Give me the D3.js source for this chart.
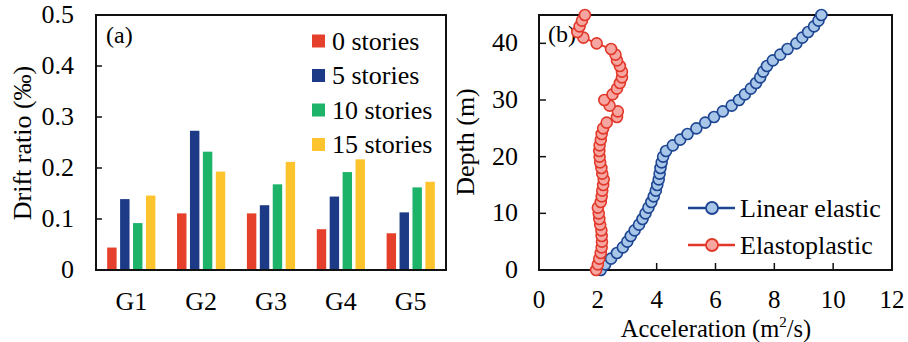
<!DOCTYPE html>
<html>
<head>
<meta charset="utf-8">
<script src="https://cdnjs.cloudflare.com/ajax/libs/d3/7.8.5/d3.min.js"></script>
<style>
  html, body { margin: 0; padding: 0; background: #fff; }
  svg { display: block; }
</style>
</head>
<body>
<svg id="chart" width="908" height="342"></svg>
<script>
// panel (a) data
const groups = ["G1", "G2", "G3", "G4", "G5"];
const storyLabels = ["0 stories", "5 stories", "10 stories", "15 stories"];
const stories0 = [0.044, 0.111, 0.111, 0.080, 0.072];
const stories5 = [0.139, 0.273, 0.127, 0.144, 0.113];
const stories10 = [0.092, 0.232, 0.168, 0.192, 0.162];
const stories15 = [0.146, 0.193, 0.212, 0.217, 0.173];
const barColors = ["#e5402b", "#1c3a86", "#1db46a", "#fdc42e"];
const yTicksA = [0, 0.1, 0.2, 0.3, 0.4, 0.5];

// panel (b) data: depth (m) and acceleration (m2/s)
const depths = d3.range(0, 46);
const linearElastic = [2.10, 2.25, 2.45, 2.65, 2.85, 3.00, 3.12, 3.25, 3.40, 3.52,
  3.62, 3.72, 3.82, 3.90, 3.97, 4.02, 4.07, 4.10, 4.13, 4.17,
  4.22, 4.32, 4.55, 4.80, 5.05, 5.35, 5.65, 5.95, 6.25, 6.55,
  6.80, 7.00, 7.20, 7.38, 7.52, 7.62, 7.75, 7.95, 8.20, 8.45,
  8.75, 8.95, 9.15, 9.35, 9.50, 9.60];
const elastoplastic = [1.94, 2.00, 2.05, 2.10, 2.13, 2.14, 2.13, 2.12, 2.08, 2.05,
  2.03, 2.00, 2.10, 2.13, 2.15, 2.18, 2.20, 2.15, 2.12, 2.08,
  2.06, 2.05, 2.06, 2.10, 2.13, 2.18, 2.30, 2.65, 2.68, 2.40,
  2.22, 2.50, 2.65, 2.75, 2.82, 2.82, 2.75, 2.65, 2.60, 2.45,
  1.96, 1.51, 1.30, 1.38, 1.46, 1.56];
const xTicksB = [0, 2, 4, 6, 8, 10, 12];
const yTicksB = [0, 10, 20, 30, 40];

const FONT = "Liberation Serif";

const svg = d3.select("#chart");

// ---------- panel (a) ----------
const A = { left: 96, right: 446, top: 15, bottom: 270 };
const series = [stories0, stories5, stories10, stories15];

const x0 = d3.scaleBand().domain(groups).range([A.left, A.right])
  .paddingInner(0.31).paddingOuter(0.16);
const x1 = d3.scaleBand().domain(d3.range(4)).range([0, x0.bandwidth()])
  .paddingInner(0.27);
const yA = d3.scaleLinear().domain([0, 0.5]).range([A.bottom, A.top]);

const gA = svg.append("g");

gA.selectAll("g.grp")
  .data(groups)
  .enter().append("g")
  .attr("class", "grp")
  .attr("transform", d => `translate(${x0(d)},0)`)
  .selectAll("rect")
  .data((g, gi) => series.map((s, si) => ({ si: si, v: s[gi] })))
  .enter().append("rect")
  .attr("x", d => x1(d.si))
  .attr("width", x1.bandwidth())
  .attr("y", d => yA(d.v))
  .attr("height", d => yA(0) - yA(d.v))
  .attr("fill", d => barColors[d.si]);

gA.append("rect")
  .attr("x", A.left).attr("y", A.top)
  .attr("width", A.right - A.left).attr("height", A.bottom - A.top)
  .attr("fill", "none").attr("stroke", "#111").attr("stroke-width", 2);

// y ticks (inward) + labels
gA.selectAll("line.ytick")
  .data(yTicksA)
  .enter().append("line")
  .attr("x1", A.left).attr("x2", A.left + 6)
  .attr("y1", d => yA(d)).attr("y2", d => yA(d))
  .attr("stroke", "#111").attr("stroke-width", 1.5);

gA.selectAll("text.ylab")
  .data(yTicksA)
  .enter().append("text")
  .attr("font-family", FONT)
  .attr("x", 74)
  .attr("y", d => yA(d) + 8)
  .attr("text-anchor", "end")
  .attr("font-size", 26)
  .text(d => d === 0 ? "0" : d.toFixed(1));

gA.selectAll("text.xlab")
  .data(groups)
  .enter().append("text")
  .attr("font-family", FONT)
  .attr("x", d => x0(d) + x0.bandwidth() / 2)
  .attr("y", 310)
  .attr("text-anchor", "middle")
  .attr("font-size", 26)
  .text(d => d);

gA.append("text")
  .attr("font-family", FONT)
  .attr("transform", "translate(31,143) rotate(-90)")
  .attr("text-anchor", "middle")
  .attr("font-size", 26)
  .text("Drift ratio (‰)");

gA.append("text")
  .attr("font-family", FONT)
  .attr("x", 106).attr("y", 43)
  .attr("font-size", 24)
  .text("(a)");

// legend (a)
const legA = gA.selectAll("g.leg")
  .data(storyLabels)
  .enter().append("g")
  .attr("transform", (d, i) => `translate(312,${41 + i * 34.5})`);
legA.append("rect")
  .attr("x", 0).attr("y", -6.5)
  .attr("width", 13).attr("height", 13)
  .attr("fill", (d, i) => barColors[i]);
legA.append("text")
  .attr("font-family", FONT)
  .attr("x", 20).attr("y", 8.5)
  .attr("font-size", 26)
  .text(d => d);

// ---------- panel (b) ----------
const B = { left: 539, right: 892, top: 15, bottom: 270 };
const xB = d3.scaleLinear().domain([0, 12]).range([B.left, B.right]);
const yB = d3.scaleLinear().domain([0, 45]).range([B.bottom, B.top]);

const gB = svg.append("g");

gB.append("rect")
  .attr("x", B.left).attr("y", B.top)
  .attr("width", B.right - B.left).attr("height", B.bottom - B.top)
  .attr("fill", "none").attr("stroke", "#111").attr("stroke-width", 2);

gB.selectAll("line.xtick")
  .data(xTicksB.slice(1, -1))
  .enter().append("line")
  .attr("x1", d => xB(d)).attr("x2", d => xB(d))
  .attr("y1", B.bottom).attr("y2", B.bottom - 7)
  .attr("stroke", "#111").attr("stroke-width", 1.5);

gB.selectAll("line.ytick")
  .data(yTicksB.slice(1))
  .enter().append("line")
  .attr("x1", B.left).attr("x2", B.left + 7)
  .attr("y1", d => yB(d)).attr("y2", d => yB(d))
  .attr("stroke", "#111").attr("stroke-width", 1.5);

gB.selectAll("text.xlab")
  .data(xTicksB)
  .enter().append("text")
  .attr("font-family", FONT)
  .attr("x", d => xB(d))
  .attr("y", 308)
  .attr("text-anchor", "middle")
  .attr("font-size", 25)
  .text(d => d);

gB.selectAll("text.ylab")
  .data(yTicksB)
  .enter().append("text")
  .attr("font-family", FONT)
  .attr("x", 518)
  .attr("y", d => yB(d) + 8)
  .attr("text-anchor", "end")
  .attr("font-size", 26)
  .text(d => d);

gB.append("text")
  .attr("font-family", FONT)
  .attr("transform", "translate(474,142) rotate(-90)")
  .attr("text-anchor", "middle")
  .attr("font-size", 26)
  .text("Depth (m)");

const xt = gB.append("text")
  .attr("font-family", FONT)
  .attr("x", 716).attr("y", 336.5)
  .attr("text-anchor", "middle")
  .attr("font-size", 24.5);
xt.append("tspan").text("Acceleration (m");
xt.append("tspan").attr("font-size", 15).attr("dy", -10).text("2");
xt.append("tspan").attr("dy", 10).text("/s)");

gB.append("text")
  .attr("font-family", FONT)
  .attr("x", 548).attr("y", 42)
  .attr("font-size", 24)
  .text("(b)");

const seriesB = [
  { name: "Linear elastic", values: linearElastic, stroke: "#1d4592", fill: "#a8c6e8" },
  { name: "Elastoplastic", values: elastoplastic, stroke: "#e2382a", fill: "#f6a6a0" }
];

const line = d3.line()
  .x(d => xB(d[0]))
  .y(d => yB(d[1]));

seriesB.forEach(s => {
  const pts = depths.map((dep, i) => [s.values[i], dep]);
  gB.append("path")
    .datum(pts)
    .attr("d", line)
    .attr("fill", "none")
    .attr("stroke", s.stroke)
    .attr("stroke-width", 2);
  gB.selectAll(null)
    .data(pts)
    .enter().append("circle")
    .attr("cx", d => xB(d[0]))
    .attr("cy", d => yB(d[1]))
    .attr("r", 5.5)
    .attr("fill", s.fill)
    .attr("stroke", s.stroke)
    .attr("stroke-width", 1.6);
});

// legend (b)
const legB = gB.selectAll("g.leg")
  .data(seriesB)
  .enter().append("g")
  .attr("transform", (d, i) => `translate(688,${208 + i * 37})`);
legB.append("line")
  .attr("x1", 0).attr("x2", 47)
  .attr("stroke", d => d.stroke).attr("stroke-width", 2.5);
legB.append("circle")
  .attr("cx", 24).attr("r", 6)
  .attr("fill", d => d.fill).attr("stroke", d => d.stroke).attr("stroke-width", 1.8);
legB.append("text")
  .attr("font-family", FONT)
  .attr("x", 52).attr("y", 9)
  .attr("font-size", 26)
  .text(d => d.name);
</script>
</body>
</html>
